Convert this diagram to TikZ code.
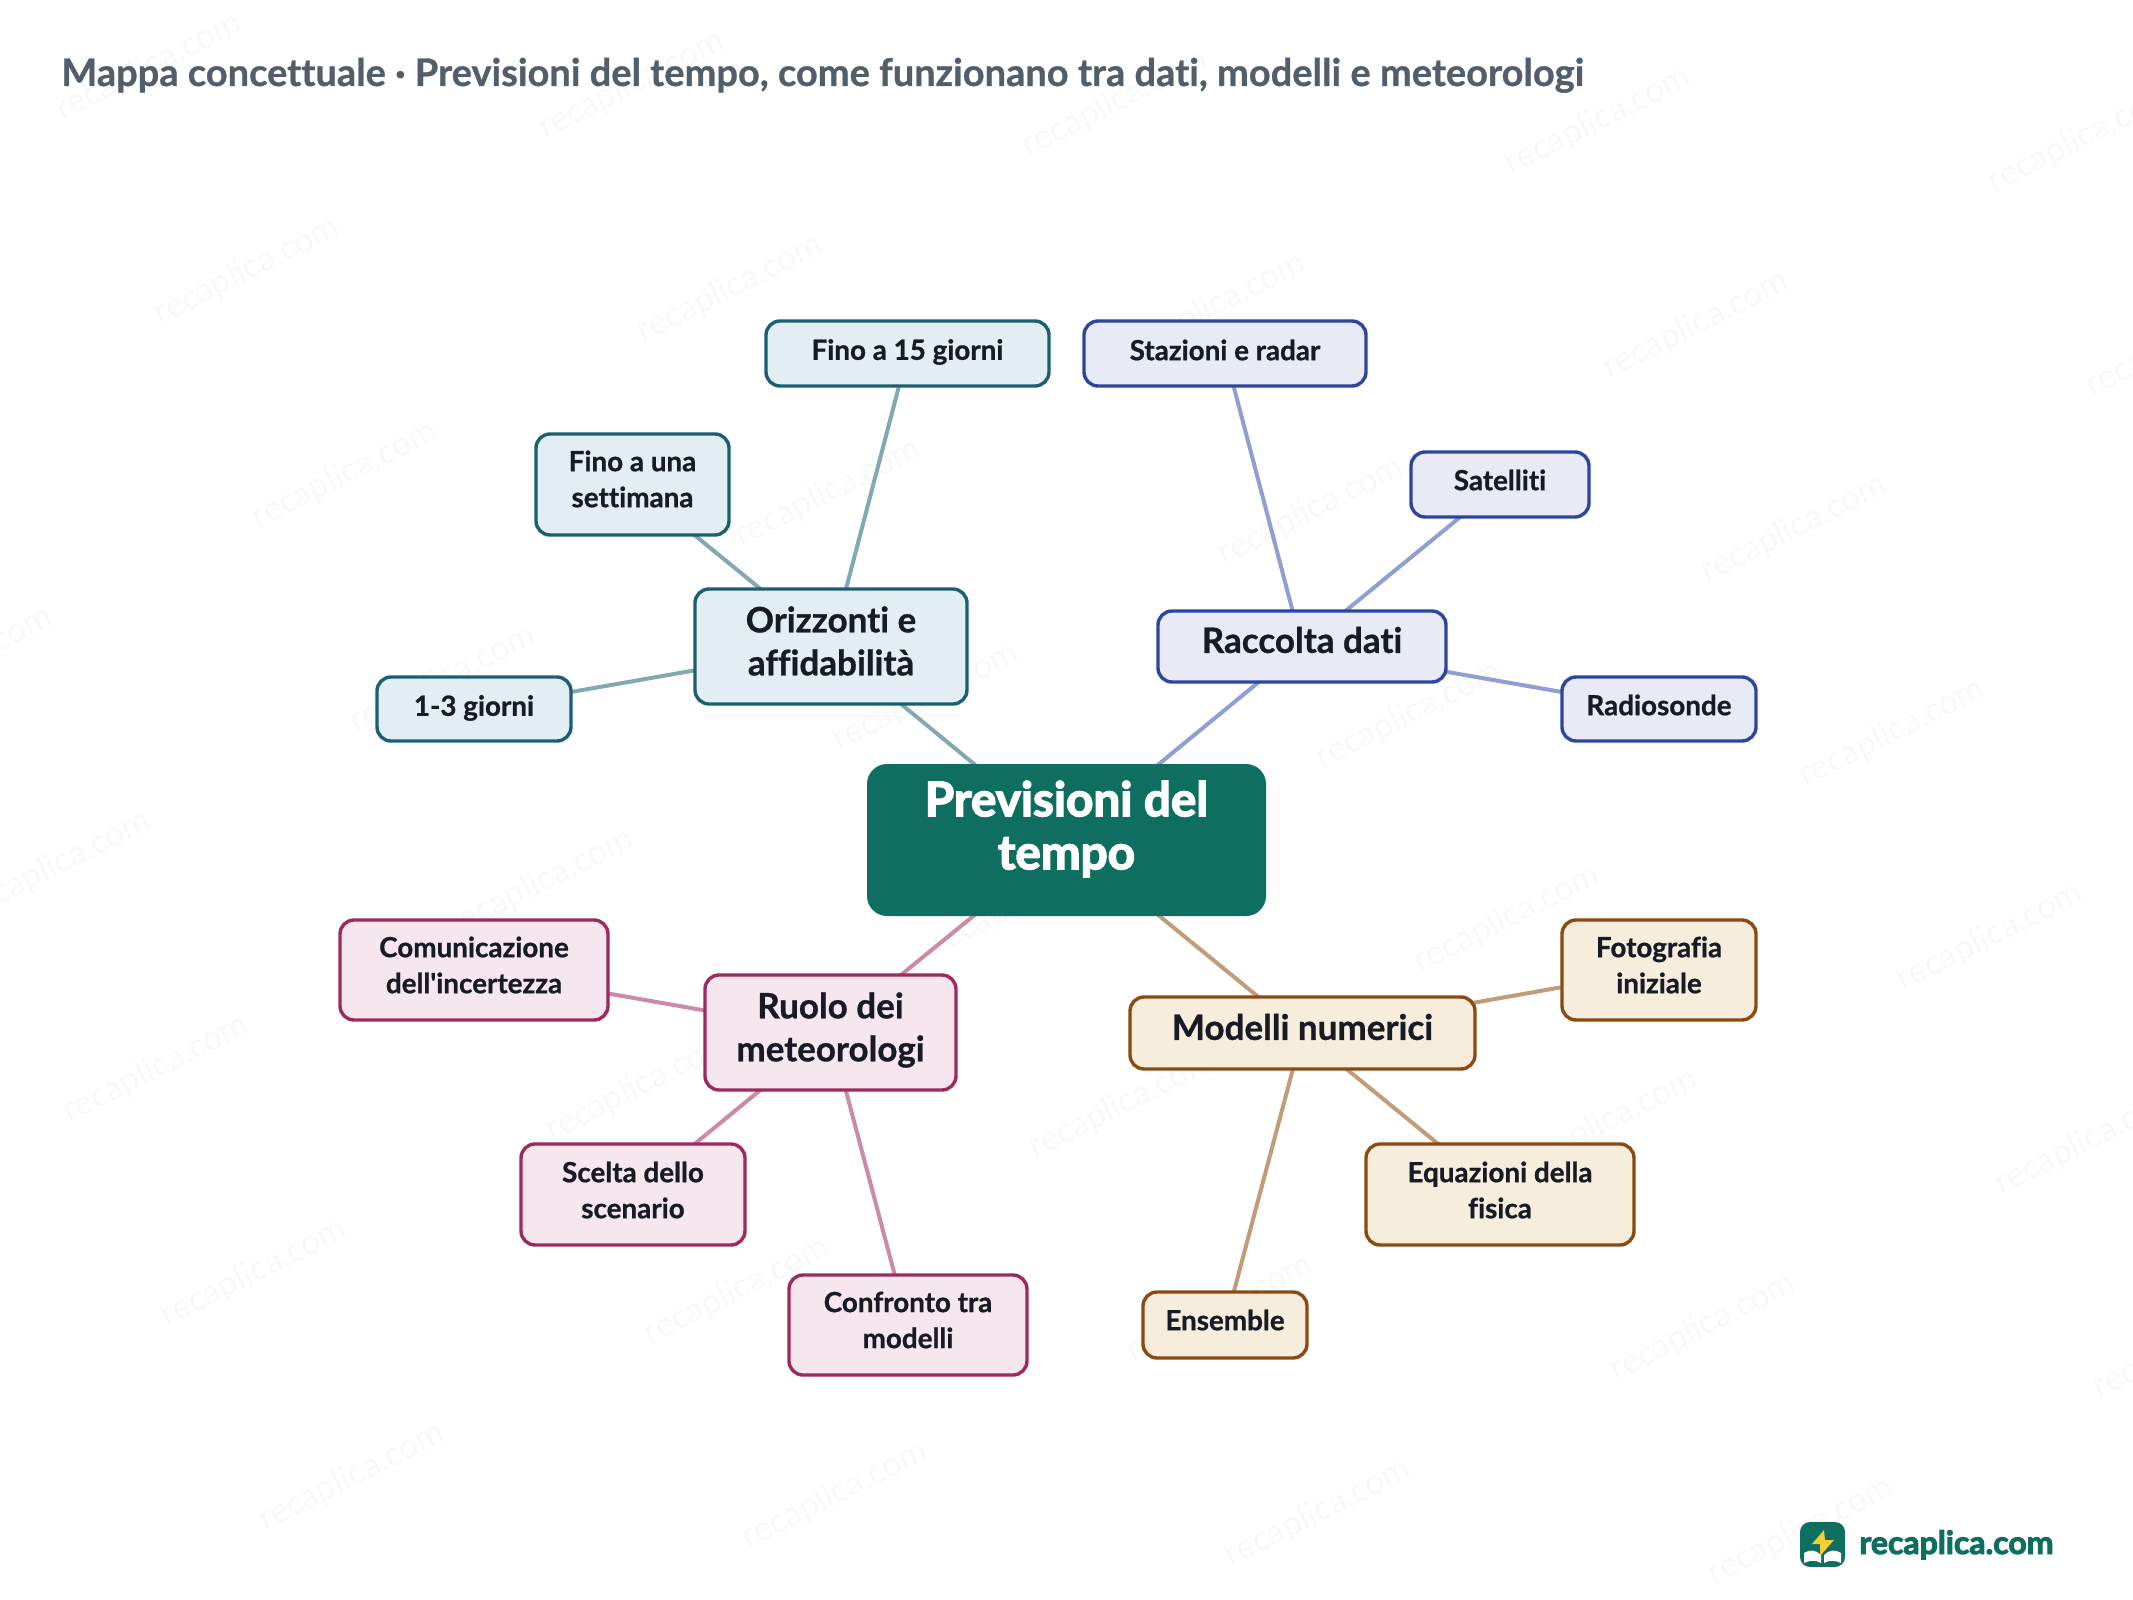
\documentclass[tikz,border=0pt]{standalone}
\usepackage{fontspec}
\setmainfont{Lato}[BoldFeatures={FakeBold=0.8},Ligatures=NoCommon]
\newfontfamily\plainb{Lato}[BoldFeatures={FakeBold=0.8},Ligatures=NoCommon]
\newfontfamily\heavy{Lato}[BoldFeatures={FakeBold=3},Ligatures=NoCommon]
\usetikzlibrary{calc}
\definecolor{ink}{HTML}{161B26}
\definecolor{titlec}{HTML}{525F6B}
\definecolor{brand}{HTML}{0E6E5F}
\definecolor{wm}{HTML}{F7F8F8}
\definecolor{tealB}{HTML}{1A5F72}\definecolor{tealF}{HTML}{E3EEF3}\definecolor{tealL}{HTML}{82A9B3}
\definecolor{blueB}{HTML}{2E45A0}\definecolor{blueF}{HTML}{E8EBF6}\definecolor{blueL}{HTML}{8F9FD2}
\definecolor{pinkB}{HTML}{9C2A5E}\definecolor{pinkF}{HTML}{F6E6EE}\definecolor{pinkL}{HTML}{CC8AA8}
\definecolor{brownB}{HTML}{8A4A12}\definecolor{brownF}{HTML}{F7EDDC}\definecolor{brownL}{HTML}{C09C78}
\definecolor{bolt}{HTML}{F5CE33}
\tikzset{
  x=0.5pt,y=-0.5pt,
  box/.style={rectangle,rounded corners=7pt,line width=1.7pt,inner sep=0pt},
  tealbox/.style={box,draw=tealB,fill=tealF},
  bluebox/.style={box,draw=blueB,fill=blueF},
  pinkbox/.style={box,draw=pinkB,fill=pinkF},
  brownbox/.style={box,draw=brownB,fill=brownF},
  rootbox/.style={rectangle,rounded corners=10pt,fill=brand,inner sep=0pt},
  small/.style={align=center,inner sep=0pt,text=ink,font=\fontsize{13.9}{18}\selectfont\plainb\bfseries},
  main/.style={align=center,inner sep=0pt,text=ink,font=\fontsize{17.5}{21.5}\selectfont\plainb\bfseries},
  roottext/.style={align=center,inner sep=0pt,text=white,font=\fontsize{23.8}{26.5}\selectfont\heavy\bfseries},
  link/.style={line width=2pt},
  wmark/.style={text=wm,rotate=26.6,font=\fontsize{17}{18}\selectfont,inner sep=0pt},
}
% name, x1, y1, x2, y2, box style, text style, text centre y, text
\newcommand{\nd}[9]{%
  \node[#6,minimum width={(#4-#2)*0.5pt},minimum height={(#5-#3)*0.5pt}] (#1) at ({(#2+#4)/2},{(#3+#5)/2}) {};
  \node[#7] (#1t) at ({(#2+#4)/2},#8) {#9};
}
\begin{document}
\begin{tikzpicture}
\useasboundingbox (0,0) rectangle (2133,1600);
\begin{scope}
\clip (0,0) rectangle (2133,1600);
\foreach \i in {-1,...,4}{\foreach \j in {-1,...,7}{
  \pgfmathsetmacro{\wx}{149+483*\i+98*\j}
  \pgfmathsetmacro{\wy}{67+18*\i+204*\j}
  \pgfmathtruncatemacro{\wok}{(\wx>-60)&&(\wx<2190)&&(\wy>-30)&&(\wy<1630)?1:0}
  \ifnum\wok=1
    \node[wmark] (w\i\j) at (\wx,\wy) {recaplica.com};
  \fi
}}
\end{scope}
\node[anchor=base west,inner sep=0pt,text=titlec,font=\fontsize{19}{22}\selectfont\plainb\bfseries] (title) at (61,86) {Mappa concettuale · Previsioni del tempo, come funzionano tra dati, modelli e meteorologi};

\coordinate (croot) at (1066.5,840);
\coordinate (cori) at (831,646.5);
\coordinate (crac) at (1302,646.5);
\coordinate (cruo) at (830.5,1032.5);
\coordinate (cmod) at (1302.5,1033);
\coordinate (cf15) at (907.5,353.5);
\coordinate (cfun) at (632.5,484.5);
\coordinate (c13) at (474,709);
\coordinate (csta) at (1225,353.5);
\coordinate (csat) at (1500,484.5);
\coordinate (crad) at (1659,709);
\coordinate (ccom) at (474,970);
\coordinate (csce) at (633,1194.5);
\coordinate (ccon) at (908,1325);
\coordinate (cfot) at (1659,970);
\coordinate (cequ) at (1500,1194.5);
\coordinate (cens) at (1225,1325);
\draw[link,tealL] (croot)--(cori) (cori)--(cf15) (cori)--(cfun) (cori)--(c13);
\draw[link,blueL] (croot)--(crac) (crac)--(csta) (crac)--(csat) (crac)--(crad);
\draw[link,pinkL] (croot)--(cruo) (cruo)--(ccom) (cruo)--(csce) (cruo)--(ccon);
\draw[link,brownL] (croot)--(cmod) (cmod)--(cfot) (cmod)--(cequ) (cmod)--(cens);

\nd{root}{867}{764}{1266}{916}{rootbox}{roottext}{829}{Previsioni del\\tempo}
\nd{ori}{695}{589}{967}{704}{tealbox}{main}{641}{Orizzonti e\\affidabilità}
\nd{rac}{1158}{611}{1446}{682}{bluebox}{main}{640}{Raccolta dati}
\nd{ruo}{705}{975}{956}{1090}{pinkbox}{main}{1030}{Ruolo dei\\meteorologi}
\nd{mod}{1130}{997}{1475}{1069}{brownbox}{main}{1027}{Modelli numerici}
\nd{f15}{766}{321}{1049}{386}{tealbox}{small}{352}{Fino a 15 giorni}
\nd{fun}{536}{434}{729}{535}{tealbox}{small}{479}{Fino a una\\settimana}
\nd{g13}{377}{677}{571}{741}{tealbox}{small}{708}{1-3 giorni}
\nd{sta}{1084}{321}{1366}{386}{bluebox}{small}{350}{Stazioni e radar}
\nd{sat}{1411}{452}{1589}{517}{bluebox}{small}{480}{Satelliti}
\nd{rad}{1562}{677}{1756}{741}{bluebox}{small}{705}{Radiosonde}
\nd{com}{340}{920}{608}{1020}{pinkbox}{small}{965}{Comunicazione\\dell'incertezza}
\nd{sce}{521}{1144}{745}{1245}{pinkbox}{small}{1190}{Scelta dello\\scenario}
\nd{con}{789}{1275}{1027}{1375}{pinkbox}{small}{1320}{Confronto tra\\modelli}
\nd{fot}{1562}{920}{1756}{1020}{brownbox}{small}{965}{Fotografia\\iniziale}
\nd{equ}{1366}{1144}{1634}{1245}{brownbox}{small}{1190}{Equazioni della\\fisica}
\nd{ens}{1143}{1292}{1307}{1358}{brownbox}{small}{1320}{Ensemble}

% logo
\node[rectangle,rounded corners=5pt,fill=brand,minimum width=22.5pt,minimum height=22.5pt,inner sep=0pt] (logo) at (1822.5,1544.5) {};
\fill[white] (1804,1553) .. controls (1810,1549) and (1816,1550) .. (1821,1555) -- (1821,1563) .. controls (1816,1560) and (1810,1560) .. (1804,1563) -- cycle;
\fill[white] (1841,1553) .. controls (1835,1549) and (1829,1550) .. (1824,1555) -- (1824,1563) .. controls (1829,1560) and (1835,1560) .. (1841,1563) -- cycle;
\fill[bolt] (1824,1530) -- (1812,1544) -- (1820,1544) -- (1820,1556) -- (1834,1540) -- (1825,1540) -- cycle;
\node[anchor=base west,inner sep=0pt,text=brand,font=\fontsize{16}{18}\selectfont\heavy\bfseries] (brandt) at (1859,1554) {recaplica.com};
\end{tikzpicture}
\end{document}
